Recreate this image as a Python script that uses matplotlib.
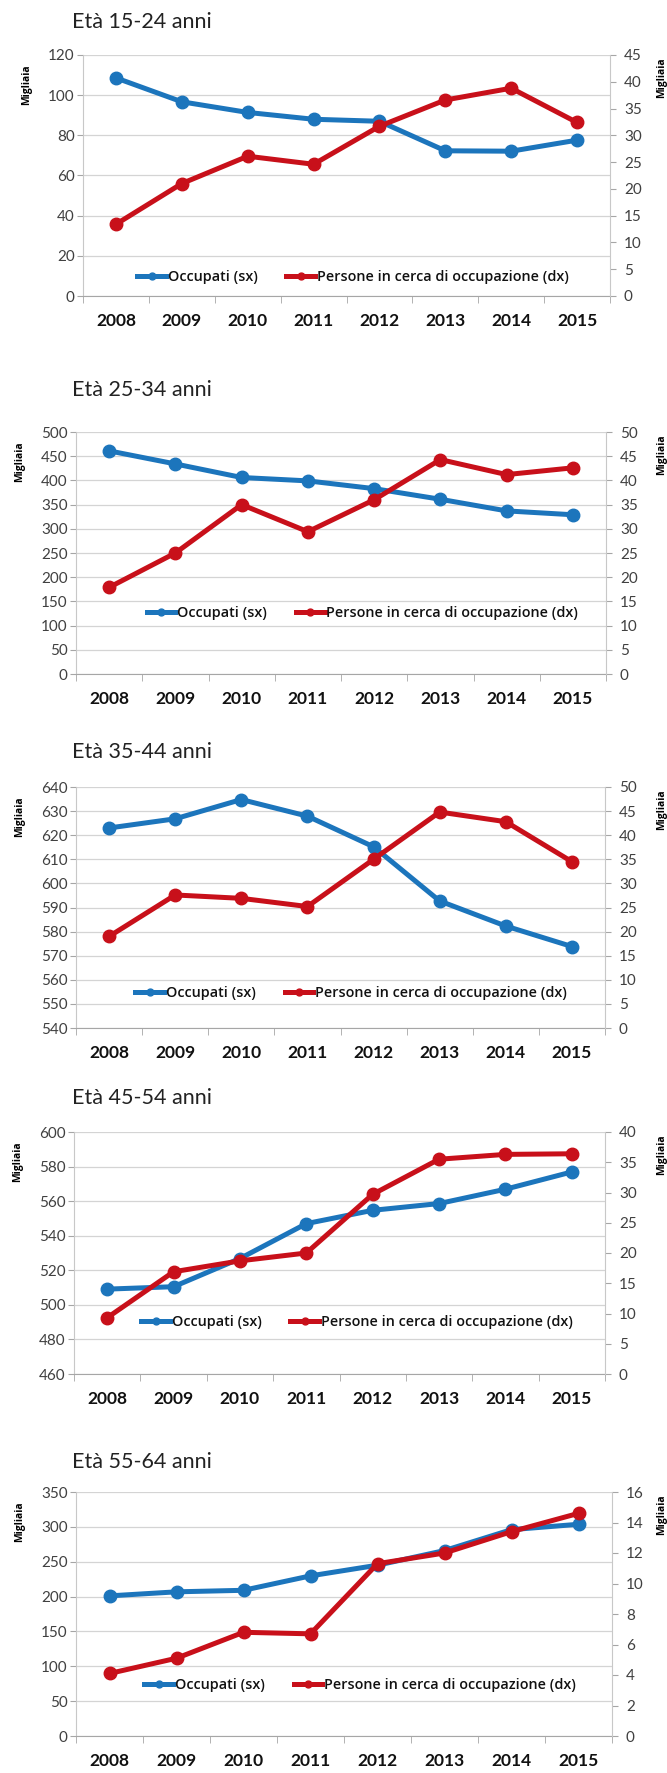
import numpy as np
import matplotlib.pyplot as plt
from matplotlib.ticker import MultipleLocator, FixedLocator

plt.rcParams['font.family'] = ['Lato', 'DejaVu Sans']

# data (migliaia)
years = ['2008', '2009', '2010', '2011', '2012', '2013', '2014', '2015']

occ_15_24 = [108.6, 96.7, 91.4, 88.0, 87.0, 72.3, 72.1, 77.6]
cerca_15_24 = [13.4, 21.0, 26.1, 24.6, 31.7, 36.6, 38.8, 32.4]

occ_25_34 = [461, 434, 406, 399, 383, 361, 337, 329]
cerca_25_34 = [17.9, 25.0, 35.0, 29.4, 36.0, 44.3, 41.2, 42.6]

occ_35_44 = [623.0, 626.8, 634.8, 627.9, 615.2, 592.7, 582.3, 573.8]
cerca_35_44 = [19.0, 27.6, 26.9, 25.2, 35.0, 44.8, 42.8, 34.5]

occ_45_54 = [509.1, 510.5, 526.8, 547.0, 554.7, 558.6, 566.9, 576.9]
cerca_45_54 = [9.3, 16.9, 18.7, 20.0, 29.7, 35.5, 36.3, 36.4]

occ_55_64 = [201, 206.8, 209, 229.7, 245, 266, 296, 303.7]
cerca_55_64 = [4.1, 5.1, 6.8, 6.7, 11.3, 12.0, 13.4, 14.6]

titles = ['Età 15-24 anni', 'Età 25-34 anni', 'Età 35-44 anni',
          'Età 45-54 anni', 'Età 55-64 anni']
lab_occ = 'Occupati (sx)'
lab_cerca = 'Persone in cerca di occupazione (dx)'

BLUE = '#1C75BC'
RED = '#C8101A'
GRID = '#D4D4D4'
TXT = '#404040'

W, H = 667, 1773
fig = plt.figure(figsize=(W / 100, H / 100), dpi=100)


def panel(occ, cerca, title, box, ylim_l, step_l, ylim_r, step_r, leg_xy):
    left, right, top, bottom, ty = box
    ax = fig.add_axes([left / W, 1 - bottom / H, (right - left) / W, (bottom - top) / H])
    x = np.arange(len(years))
    ax.plot(x, occ, color=BLUE, lw=3.6, marker='o', ms=9, label=lab_occ, zorder=3)
    ax.set_xlim(-0.5, len(years) - 0.5)
    ax.set_ylim(*ylim_l)
    ax.yaxis.set_major_locator(MultipleLocator(step_l))
    ax.grid(axis='y', color=GRID, lw=0.9)
    ax.set_axisbelow(True)
    ax.set_xticks(x)
    ax.set_xticklabels(years, fontsize=12.5, fontweight='bold', color='#111111')
    ax.xaxis.set_minor_locator(FixedLocator(np.arange(-0.5, len(years), 1.0)))
    ax.tick_params(axis='x', which='major', length=0, pad=12)
    ax.tick_params(axis='x', which='minor', length=5, color='#A6A6A6', direction='out')
    ax.tick_params(axis='y', length=4, color='#A6A6A6', labelsize=11, labelcolor=TXT, pad=2)
    ax.spines['top'].set_visible(False)
    ax.spines['left'].set_color('#C8C8C8')
    ax.spines['bottom'].set_color('#A6A6A6')
    ax.spines['right'].set_visible(False)

    ax2 = ax.twinx()
    ax2.plot(x, cerca, color=RED, lw=3.6, marker='o', ms=9, label=lab_cerca, zorder=3)
    ax2.set_ylim(*ylim_r)
    ax2.yaxis.set_major_locator(MultipleLocator(step_r))
    ax2.tick_params(axis='y', length=4, color='#A6A6A6', labelsize=11, labelcolor=TXT, pad=6)
    ax2.spines['right'].set_color('#C8C8C8')
    for s in ['top', 'left', 'bottom']:
        ax2.spines[s].set_visible(False)

    h1, l1 = ax.get_legend_handles_labels()
    h2, l2 = ax2.get_legend_handles_labels()
    leg = ax2.legend(h1 + h2, l1 + l2, loc='center', bbox_to_anchor=leg_xy, ncol=2,
                     frameon=False, handlelength=2.0, handletextpad=0.1,
                     columnspacing=2.0, markerscale=0.55,
                     prop={'family': 'Open Sans', 'size': 10.4, 'weight': 'semibold'})
    for t in leg.get_texts():
        t.set_color('#111111')

    fig.text(72 / W, 1 - ty / H, title, fontsize=15.5, color='#222222', va='center', ha='left')
    fig.text((left - 56) / W, 1 - (top + 30) / H, 'Migliaia', rotation=90, fontsize=7.5,
             fontweight='bold', family='Open Sans', ha='center', va='center')
    fig.text(662 / W, 1 - (top + 23) / H, 'Migliaia', rotation=90, fontsize=7.5,
             fontweight='bold', family='Open Sans', ha='center', va='center')
    return ax, ax2


panel(occ_15_24, cerca_15_24, titles[0], (83, 610, 55, 296, 22),
      (0, 120), 20, (0, 45), 5, (0.512, 0.079))
panel(occ_25_34, cerca_25_34, titles[1], (76, 606, 432, 674, 390),
      (0, 500), 50, (0, 50), 5, (0.54, 0.252))
panel(occ_35_44, cerca_35_44, titles[2], (76, 605, 787, 1028, 752),
      (540, 640), 10, (0, 50), 5, (0.52, 0.145))
panel(occ_45_54, cerca_45_54, titles[3], (74, 605, 1132, 1374, 1098),
      (460, 600), 20, (0, 40), 5, (0.533, 0.215))
panel(occ_55_64, cerca_55_64, titles[4], (76, 612, 1492, 1736, 1462),
      (0, 350), 50, (0, 16), 2, (0.53, 0.209))

fig.savefig('out.png', dpi=100)
